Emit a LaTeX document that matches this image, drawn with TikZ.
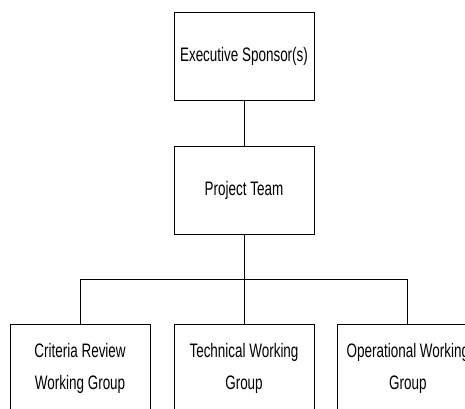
\documentclass[tikz,border=0pt]{standalone}
\usepackage{fontspec}
\setmainfont{Liberation Sans}[FakeStretch=0.69]
\usetikzlibrary{positioning}

\tikzset{
  orgbox/.style={draw, line width=0.9pt, minimum width=140pt, minimum height=88pt,
    align=center, inner sep=2pt, font=\fontsize{19.5}{32}\selectfont},
  link/.style={line width=0.9pt}
}

\begin{document}
\begin{tikzpicture}
\useasboundingbox (0,0) rectangle (465pt,-408pt);
\node[orgbox](exec) at (244pt,-56.5pt){Executive Sponsor(s)};
\node[orgbox, below = 45pt of exec](team){Project Team};
\node[orgbox, below = 89pt of team](tech){Technical Working\\Group};
\node[orgbox, left = 23pt of tech](crit){Criteria Review\\Working Group};
\node[orgbox, right = 23pt of tech](ops){Operational Working\\Group};
\coordinate[below = 45pt of team.south](bus);
\draw[link] (exec) -- (team);
\draw[link] (team) -- (bus);
\draw[link] (bus) -| (crit.north);
\draw[link] (bus) -- (tech);
\draw[link] (bus) -| (ops.north);
\end{tikzpicture}
\end{document}
